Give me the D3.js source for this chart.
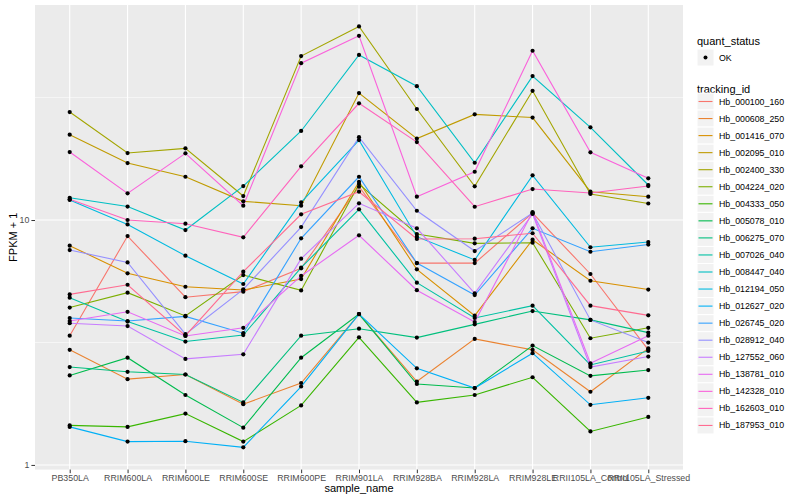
<!DOCTYPE html>
<html><head><meta charset="utf-8">
<script src="https://cdn.jsdelivr.net/npm/d3@7"></script>
<style>body{margin:0;background:#fff}svg{display:block}text{font-family:"Liberation Sans",Arial,sans-serif}</style>
</head><body><svg id="c" width="800" height="500"></svg>
<script>
const categories = ["PB350LA","RRIM600LA","RRIM600LE","RRIM600SE","RRIM600PE","RRIM901LA","RRIM928BA","RRIM928LA","RRIM928LE","RRII105LA_Control","RRII105LA_Stressed"];
const trackingIds = ["Hb_000100_160","Hb_000608_250","Hb_001416_070","Hb_002095_010","Hb_002400_330","Hb_004224_020","Hb_004333_050","Hb_005078_010","Hb_006275_070","Hb_007026_040","Hb_008447_040","Hb_012194_050","Hb_012627_020","Hb_026745_020","Hb_028912_040","Hb_127552_060","Hb_138781_010","Hb_142328_010","Hb_162603_010","Hb_187953_010"];
const yTicks = [1, 10, 100];
const yMinor = [Math.sqrt(10), Math.sqrt(1000)];
const quantStatus = ["OK"];

// FPKM + 1 values per tracking id, in category order
const v000100_160 = [3.37, 8.60, 4.84, 5.10, 6.35, 13.67, 6.67, 6.67, 10.68, 6.02, 2.95];
const v000608_250 = [2.95, 2.24, 2.34, 1.77, 2.16, 4.13, 2.19, 3.27, 2.95, 1.99, 2.99];
const v001416_070 = [7.86, 6.06, 5.34, 5.18, 5.74, 14.33, 6.29, 4.07, 8.31, 5.65, 5.20];
const v002095_010 = [22.3, 17.08, 15.02, 11.92, 11.44, 33.0, 21.5, 27.0, 26.2, 13.05, 12.45];
const v002400_330 = [27.6, 18.77, 19.62, 12.53, 46.7, 61.7, 28.4, 13.73, 33.7, 12.77, 11.68];
const v004224_020 = [4.39, 5.05, 4.06, 5.96, 5.16, 14.03, 8.77, 8.03, 8.08, 3.29, 3.63];
const v004333_050 = [1.45, 1.43, 1.62, 1.245, 1.75, 3.32, 1.80, 1.93, 2.28, 1.37, 1.57];
const v005078_010 = [2.32, 2.74, 1.93, 1.42, 2.74, 4.13, 2.14, 2.06, 3.07, 2.31, 2.44];
const v006275_070 = [2.51, 2.40, 2.34, 1.80, 3.37, 3.60, 3.31, 3.75, 4.25, 3.91, 3.47];
const v007026_040 = [4.82, 3.85, 3.19, 3.39, 6.39, 11.06, 5.55, 3.98, 4.47, 2.56, 2.92];
const v008447_040 = [12.33, 11.35, 9.10, 13.76, 23.1, 47.2, 35.2, 17.13, 38.7, 23.9, 13.9];
const v012194_050 = [12.07, 9.59, 7.15, 5.48, 11.81, 21.2, 8.55, 6.87, 15.22, 7.74, 8.13];
const v012627_020 = [1.43, 1.245, 1.25, 1.18, 2.09, 4.13, 2.48, 2.06, 2.86, 1.76, 1.88];
const v026745_020 = [3.98, 3.87, 4.04, 3.45, 8.42, 15.02, 6.67, 4.94, 9.25, 7.42, 7.94];
const v028912_040 = [7.54, 6.71, 3.42, 5.21, 9.36, 21.8, 10.91, 7.47, 10.68, 3.91, 3.16];
const v127552_060 = [3.79, 3.69, 2.71, 2.83, 6.95, 11.70, 9.25, 5.02, 10.58, 2.51, 2.77];
const v138781_010 = [3.87, 4.22, 3.36, 3.63, 5.91, 8.66, 5.17, 3.83, 10.78, 2.60, 3.37];
const v142328_010 = [18.95, 12.85, 18.72, 11.44, 43.7, 56.5, 12.45, 15.74, 49.1, 18.9, 14.8];
const v162603_010 = [12.15, 10.0, 9.66, 8.50, 16.56, 29.95, 20.8, 11.33, 13.38, 12.89, 13.76];
const v187953_010 = [4.97, 5.44, 3.37, 6.15, 10.55, 13.05, 8.37, 8.39, 8.83, 4.47, 4.08];

const seriesValues = [v000100_160,v000608_250,v001416_070,v002095_010,v002400_330,v004224_020,v004333_050,v005078_010,v006275_070,v007026_040,v008447_040,v012194_050,v012627_020,v026745_020,v028912_040,v127552_060,v138781_010,v142328_010,v162603_010,v187953_010];
const palette = ["#F8766D","#EA8331","#D89000","#C09B00","#A3A500","#7CAE00","#39B600","#00BB4E","#00BF7D","#00C1A3","#00BFC4","#00BAE0","#00B0F6","#35A2FF","#9590FF","#C77CFF","#E76BF3","#FA62DB","#FF62BC","#FF6C91"];

const svg = d3.select("#c");
const P = {l:35, r:683, t:5, b:469.6};
const x = d3.scalePoint().domain(categories).range([P.l, P.r]).padding(0.6);
const y = d3.scaleLog().domain([0.957, 75.5]).range([P.b, P.t]);
const color = d3.scaleOrdinal().domain(trackingIds).range(palette);

svg.append("rect").attr("width",800).attr("height",500).attr("fill","#fff");
svg.append("rect").attr("x",P.l).attr("y",P.t).attr("width",P.r-P.l).attr("height",P.b-P.t).attr("fill","#EBEBEB");
const grid = svg.append("g");
yMinor.forEach(v=>grid.append("line").attr("x1",P.l).attr("x2",P.r).attr("y1",y(v)).attr("y2",y(v)).attr("stroke","#fff").attr("stroke-width",0.55));
yTicks.filter(v=>y(v)>=P.t).forEach(v=>grid.append("line").attr("x1",P.l).attr("x2",P.r).attr("y1",y(v)).attr("y2",y(v)).attr("stroke","#fff").attr("stroke-width",1.1));
categories.forEach(c=>grid.append("line").attr("x1",x(c)).attr("x2",x(c)).attr("y1",P.t).attr("y2",P.b).attr("stroke","#fff").attr("stroke-width",1.1));

const line = d3.line().x((d,i)=>x(categories[i])).y(d=>y(d));
const gl = svg.append("g");
seriesValues.forEach((vals,k)=>{
  gl.append("path").attr("d",line(vals)).attr("fill","none").attr("stroke",color(trackingIds[k])).attr("stroke-width",1.1);
});
const gp = svg.append("g");
seriesValues.forEach(vals=>{
  vals.forEach((v,i)=>gp.append("circle").attr("cx",x(categories[i])).attr("cy",y(v)).attr("r",2.1).attr("fill","#000"));
});

// axes
const xAxis = d3.axisBottom(x).tickSize(3.6).tickPadding(2);
const gx = svg.append("g").attr("transform",`translate(0,${P.b})`).call(xAxis);
gx.select(".domain").remove();
gx.selectAll("line").attr("stroke","#333");
gx.selectAll("text").attr("fill","#4D4D4D").attr("font-size","8.8px").attr("font-family","Liberation Sans, Arial, sans-serif");
const yAxis = d3.axisLeft(y).tickValues(yTicks.filter(v=>y(v)>=P.t)).tickFormat(d3.format("d")).tickSize(3.6).tickPadding(2);
const gy = svg.append("g").attr("transform",`translate(${P.l},0)`).call(yAxis);
gy.select(".domain").remove();
gy.selectAll("line").attr("stroke","#333");
gy.selectAll("text").attr("fill","#4D4D4D").attr("font-size","8.8px").attr("font-family","Liberation Sans, Arial, sans-serif");

svg.append("text").attr("x",(P.l+P.r)/2).attr("y",492).attr("text-anchor","middle").attr("font-size","11px").text("sample_name");
svg.append("text").attr("transform",`translate(17,${(P.t+P.b)/2}) rotate(-90)`).attr("text-anchor","middle").attr("font-size","11px").text("FPKM + 1");

// legend
const lg = svg.append("g");
lg.append("text").attr("x",697).attr("y",45).attr("font-size","11px").text("quant_status");
quantStatus.forEach((q,i)=>{
  lg.append("rect").attr("x",697).attr("y",49).attr("width",17).attr("height",17).attr("fill","#F2F2F2").attr("stroke","#fff");
  lg.append("circle").attr("cx",705.5).attr("cy",57.5).attr("r",2).attr("fill","#000");
  lg.append("text").attr("x",719).attr("y",60.5).attr("font-size","8.8px").text(q);
});
lg.append("text").attr("x",697).attr("y",93).attr("font-size","11px").text("tracking_id");
const step = 17.05;
trackingIds.forEach((id,i)=>{
  const cy = 101.5 + i*step;
  lg.append("rect").attr("x",697).attr("y",cy-8.5).attr("width",17).attr("height",17).attr("fill","#F2F2F2").attr("stroke","#fff");
  lg.append("line").attr("x1",698.5).attr("x2",712.5).attr("y1",cy).attr("y2",cy).attr("stroke",color(id)).attr("stroke-width",1.1);
  lg.append("text").attr("x",719).attr("y",cy+3).attr("font-size","8.8px").text(id);
});
</script></body></html>
